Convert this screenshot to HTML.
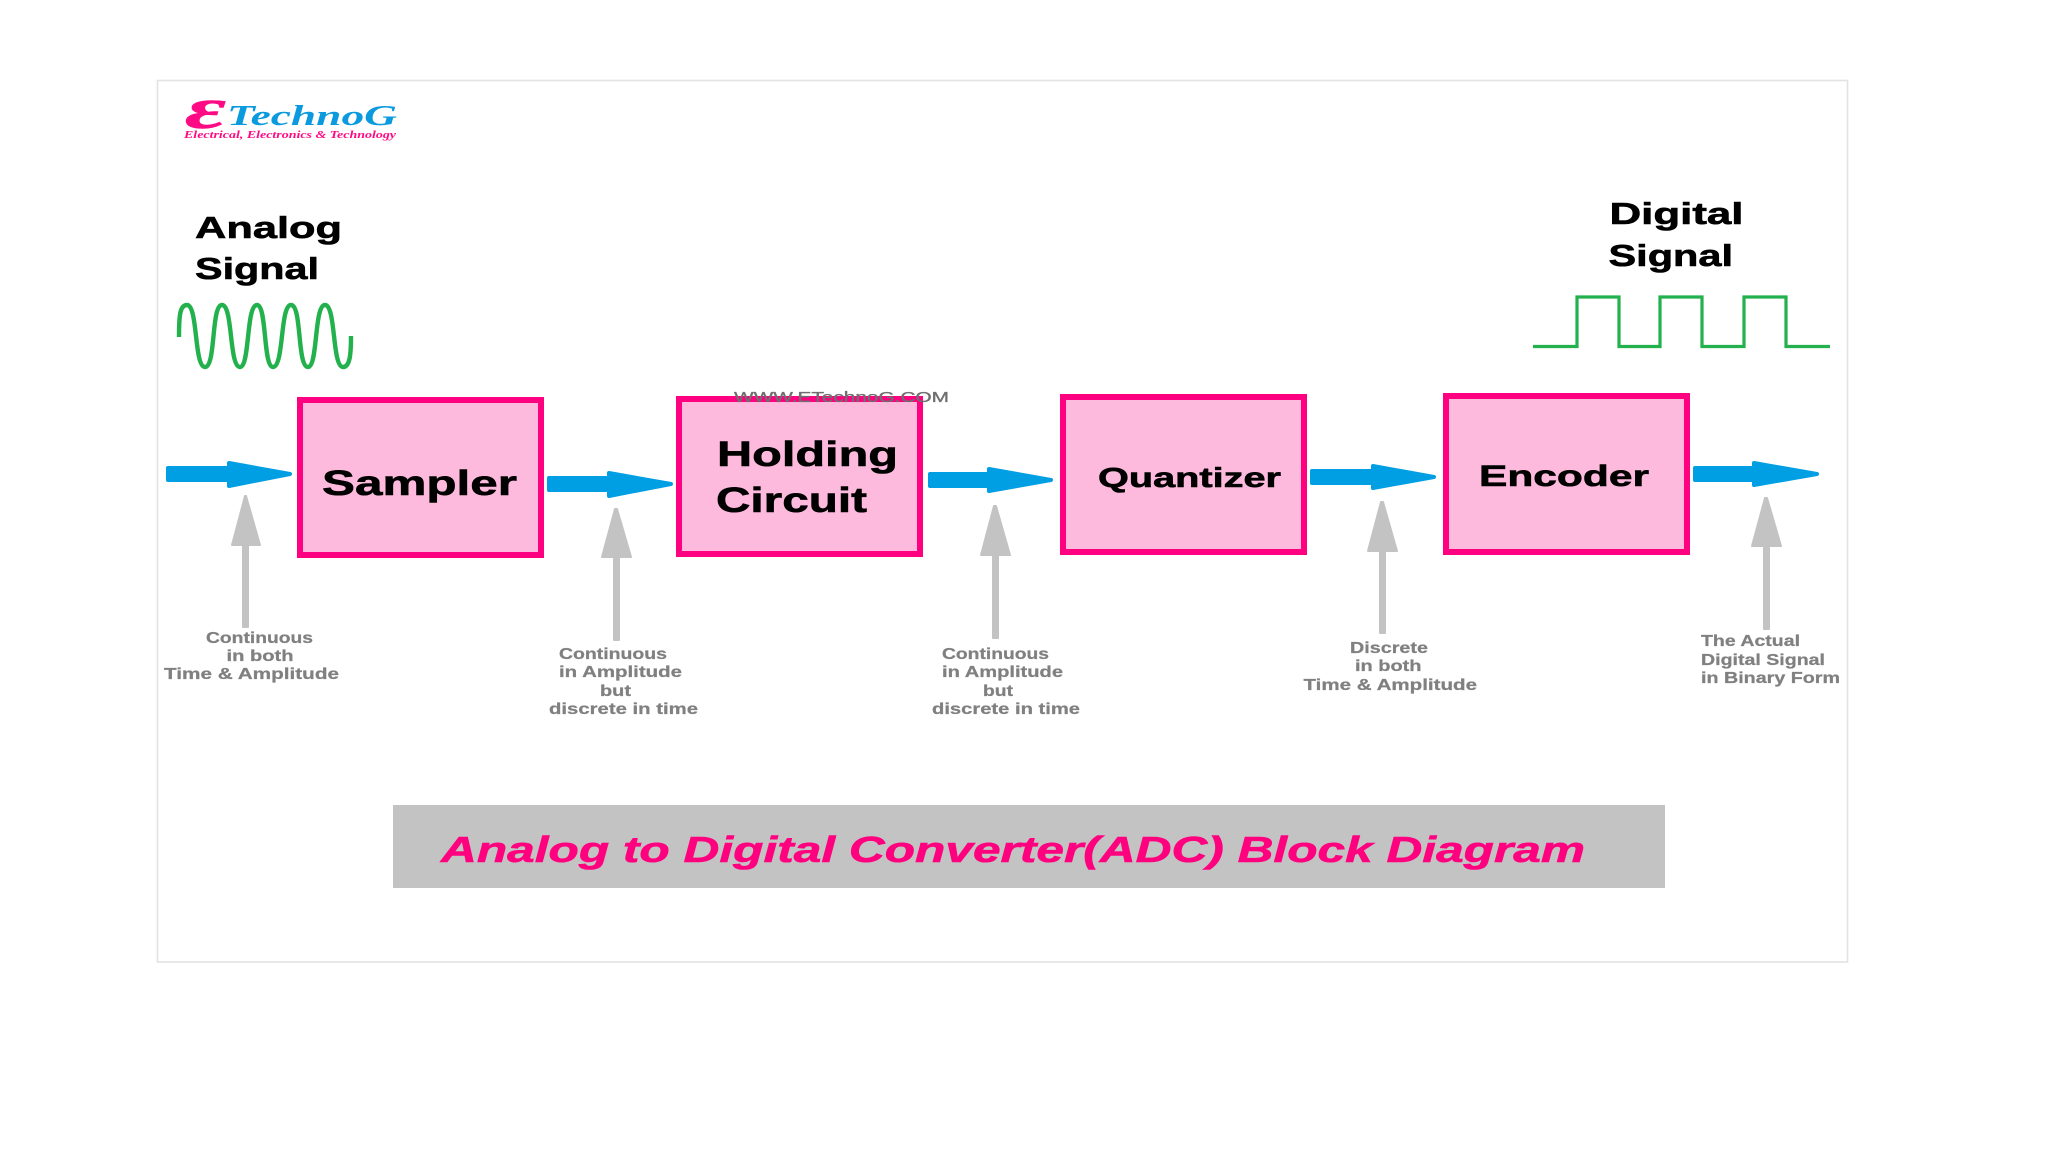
<!DOCTYPE html>
<html>
<head>
<meta charset="utf-8">
<style>
html,body{margin:0;padding:0;background:#fff;width:2048px;height:1152px;overflow:hidden}
svg{display:block}
text{font-family:"Liberation Sans",sans-serif;font-weight:bold}
.h{fill:#000;stroke:#000;stroke-width:.6}
.c{fill:#808080;stroke:#808080;stroke-width:.25;font-size:15.5px}
.box{fill:#fdbadd;stroke:#ff0080;stroke-width:6}
.b{fill:#009fe3;stroke:#009fe3;stroke-width:4;stroke-linejoin:round}
.g{fill:#c3c3c3;stroke:#c3c3c3;stroke-width:2;stroke-linejoin:round}
</style>
</head>
<body>
<svg width="2048" height="1152" viewBox="0 0 2048 1152" xmlns="http://www.w3.org/2000/svg">
<rect x="157.5" y="80.5" width="1690" height="881.5" fill="#fff" stroke="#e3e3e3" stroke-width="1.6"/>

<!-- Logo -->
<text x="185" y="128" font-size="58" textLength="41" lengthAdjust="spacingAndGlyphs" style="font-family:'Liberation Serif',serif;font-style:italic" fill="#ff0a85" stroke="#ff0a85" stroke-width=".5">ε</text>
<text x="227" y="125" font-size="28" textLength="170" lengthAdjust="spacingAndGlyphs" style="font-family:'Liberation Serif',serif;font-style:italic" fill="#0b9ade">TechnoG</text>
<text x="184" y="138" font-size="11" textLength="212" lengthAdjust="spacingAndGlyphs" style="font-family:'Liberation Serif',serif;font-style:italic" fill="#ff0a85">Electrical, Electronics &amp; Technology</text>

<!-- Signal headings -->
<text class="h" x="195" y="238" font-size="31" textLength="147" lengthAdjust="spacingAndGlyphs">Analog</text>
<text class="h" x="195" y="279" font-size="31" textLength="124" lengthAdjust="spacingAndGlyphs">Signal</text>
<text class="h" x="1609.5" y="224" font-size="31" textLength="134" lengthAdjust="spacingAndGlyphs">Digital</text>
<text class="h" x="1608.5" y="266" font-size="31" textLength="124.5" lengthAdjust="spacingAndGlyphs">Signal</text>

<!-- Analog wave -->
<path d="M179 337 C179 315 180 305 187 305 C198 305 194 367 205 367 C216 367 211 305 222 305 C233 305 229 367 240 367 C250 367 246 305 257 305 C267 305 263 367 273 367 C284 367 280 305 291 305 C302 305 297 367 308 367 C318 367 314 305 325 305 C336 305 332 367 343 367 C350 367 351 354 351 336" fill="none" stroke="#22b14c" stroke-width="4.4"/>

<!-- Digital wave -->
<path d="M1533 346.5 H1577 V297 H1619 V346.5 H1660 V297 H1702 V346.5 H1744 V297 H1786 V346.5 H1830" fill="none" stroke="#22b14c" stroke-width="3.2"/>

<!-- Boxes -->
<rect class="box" x="300" y="400" width="241" height="155"/>
<rect class="box" x="679" y="399" width="241" height="155"/>
<rect class="box" x="1063" y="397" width="241" height="155"/>
<rect class="box" x="1446" y="396" width="241" height="156"/>

<text class="h" x="322" y="495" font-size="35" textLength="195" lengthAdjust="spacingAndGlyphs">Sampler</text>
<text class="h" x="717" y="466" font-size="35" textLength="181" lengthAdjust="spacingAndGlyphs">Holding</text>
<text class="h" x="716" y="512" font-size="35" textLength="151" lengthAdjust="spacingAndGlyphs">Circuit</text>
<text class="h" x="1098" y="487" font-size="28" textLength="183" lengthAdjust="spacingAndGlyphs">Quantizer</text>
<text class="h" x="1479" y="486" font-size="30" textLength="170" lengthAdjust="spacingAndGlyphs">Encoder</text>

<!-- Blue arrows -->
<polygon class="b" points="168,468 229,468 229,463 290,474 229,486 229,480 168,480"/>
<polygon class="b" points="549,478 609,478 609,473 671,484 609,496 609,490 549,490"/>
<polygon class="b" points="930,474 989,474 989,469 1051,480 989,491 989,486 930,486"/>
<polygon class="b" points="1312,471 1373,471 1373,466 1434,477 1373,488 1373,483 1312,483"/>
<polygon class="b" points="1695,468 1754,468 1754,463 1817,474 1754,485 1754,480 1695,480"/>

<!-- Gray arrows -->
<polygon class="g" points="245,496 246,496 260,545 248,545 248,627 243,627 243,545 232,545"/>
<polygon class="g" points="615,509 617,509 631,557 619,557 619,640 614,640 614,557 602,557"/>
<polygon class="g" points="994,506 996,506 1010,555 998,555 998,638 993,638 993,555 981,555"/>
<polygon class="g" points="1381,502 1383,502 1397,551 1385,551 1385,633 1380,633 1380,551 1368,551"/>
<polygon class="g" points="1765,498 1767,498 1781,546 1769,546 1769,629 1764,629 1764,546 1752,546"/>

<!-- Captions -->
<text class="c" x="206" y="643" textLength="107" lengthAdjust="spacingAndGlyphs">Continuous</text>
<text class="c" x="226.5" y="661" textLength="67" lengthAdjust="spacingAndGlyphs">in both</text>
<text class="c" x="164" y="679" textLength="175" lengthAdjust="spacingAndGlyphs">Time &amp; Amplitude</text>

<text class="c" x="559" y="659" textLength="108" lengthAdjust="spacingAndGlyphs">Continuous</text>
<text class="c" x="559" y="677" textLength="123" lengthAdjust="spacingAndGlyphs">in Amplitude</text>
<text class="c" x="600" y="696" textLength="31" lengthAdjust="spacingAndGlyphs">but</text>
<text class="c" x="549" y="714" textLength="149" lengthAdjust="spacingAndGlyphs">discrete in time</text>

<text class="c" x="942" y="659" textLength="107" lengthAdjust="spacingAndGlyphs">Continuous</text>
<text class="c" x="942" y="677" textLength="121" lengthAdjust="spacingAndGlyphs">in Amplitude</text>
<text class="c" x="983" y="696" textLength="30" lengthAdjust="spacingAndGlyphs">but</text>
<text class="c" x="932" y="714" textLength="148" lengthAdjust="spacingAndGlyphs">discrete in time</text>

<text class="c" x="1350" y="653" textLength="78" lengthAdjust="spacingAndGlyphs">Discrete</text>
<text class="c" x="1355" y="671" textLength="66.5" lengthAdjust="spacingAndGlyphs">in both</text>
<text class="c" x="1303.5" y="690" textLength="173.5" lengthAdjust="spacingAndGlyphs">Time &amp; Amplitude</text>

<text class="c" x="1701" y="646" textLength="99" lengthAdjust="spacingAndGlyphs">The Actual</text>
<text class="c" x="1701" y="665" textLength="124" lengthAdjust="spacingAndGlyphs">Digital Signal</text>
<text class="c" x="1701" y="683" textLength="139" lengthAdjust="spacingAndGlyphs">in Binary Form</text>

<!-- Watermark -->
<text x="734" y="402" font-size="15" textLength="215" lengthAdjust="spacingAndGlyphs" fill="#6f6f6f" stroke="#6f6f6f" stroke-width=".35" style="font-weight:normal">WWW.ETechnoG.COM</text>

<!-- Title bar -->
<rect x="393" y="805" width="1272" height="83" fill="#c3c3c3"/>
<text x="441" y="862" font-size="36" textLength="1144" lengthAdjust="spacingAndGlyphs" fill="#ff007f" stroke="#ff007f" stroke-width=".6" style="font-style:italic">Analog to Digital Converter(ADC) Block Diagram</text>
</svg>
</body>
</html>
